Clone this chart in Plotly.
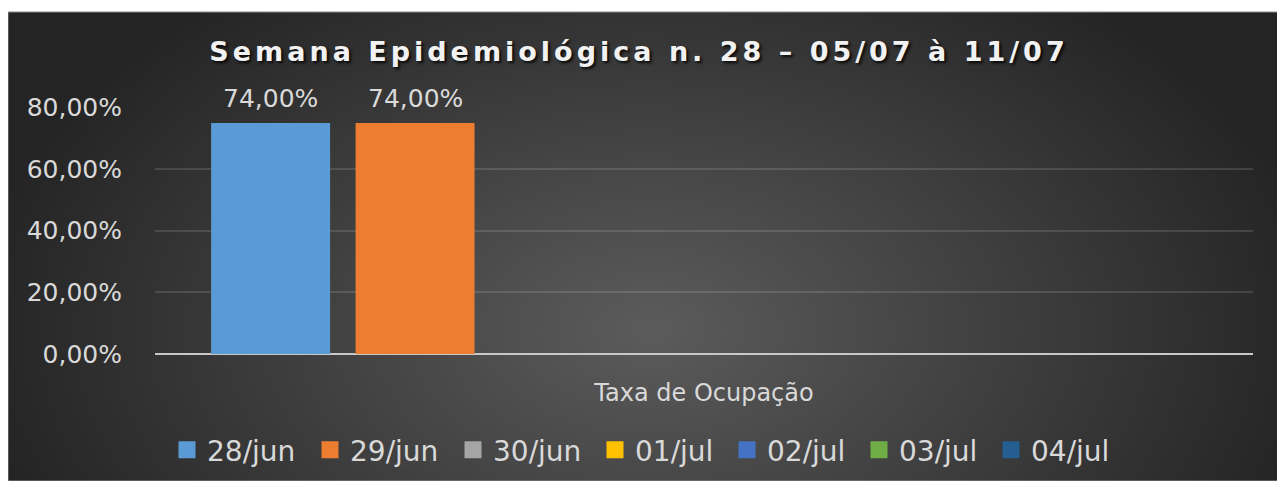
import base64
import struct
import zlib

import numpy as np
import plotly.graph_objects as go

# ---------------- data ----------------
categories = ["Taxa de Ocupação"]
series_names = ["28/jun", "29/jun", "30/jun", "01/jul", "02/jul", "03/jul", "04/jul"]
series_values = [0.74, 0.74, None, None, None, None, None]
y_ticks = [0, 0.2, 0.4, 0.6, 0.8]
title_text = "Semana Epidemiológica n. 28 – 05/07 à 11/07"

# ---------------- style ----------------
series_colors = ["#5b9bd5", "#ed7d31", "#a5a5a5", "#ffc000", "#4472c4", "#70ad47", "#255e91"]
legend_entry_widths = [98, 98, 97, 87, 87, 87, 87]

# geometry (page pixels; the page body has an 8px margin)
OFF = 8
W, H = 1285 - OFF, 481 - OFF
PX0, PX1, PY0, PY1 = max(7 - OFF, 0), 1283 - OFF, 12 - OFF, 481 - OFF
L, R, T, B = 155 - OFF, 1253 - OFF, 107 - OFF, 354 - OFF
pw, ph = R - L, B - T
BARGAP, BARGROUPGAP = 0.079, 0.211
BAR_LINE = 5  # outline in the bar colour (also enlarges the legend squares)


def make_png(arr):
    h, w = arr.shape
    raw = b"".join(b"\x00" + np.repeat(arr[i][:, None], 3, axis=1).astype(np.uint8).tobytes() for i in range(h))

    def chunk(tag, data):
        c = struct.pack(">I", len(data)) + tag + data
        return c + struct.pack(">I", zlib.crc32(tag + data) & 0xFFFFFFFF)

    png = b"\x89PNG\r\n\x1a\n"
    png += chunk(b"IHDR", struct.pack(">IIBBBBB", w, h, 8, 2, 0, 0, 0))
    png += chunk(b"IDAT", zlib.compress(raw, 9))
    png += chunk(b"IEND", b"")
    return "data:image/png;base64," + base64.b64encode(png).decode()


# radial (Excel-like) dark background
gw, gh = 320, 120
gx = np.linspace(PX0, PX1, gw)
gy = np.linspace(PY0, PY1, gh)
GX, GY = np.meshgrid(gx, gy)
rr = np.sqrt(((GX - (650 - OFF)) / 690) ** 2 + ((GY - (330 - OFF)) / 440) ** 2)
val = 92 - 56 * np.clip(rr, 0, 1)
bg_src = make_png(np.clip(val, 0, 255))

LABEL_FONT = dict(family="DejaVu Sans", size=25, color="#d9d9d9")
CAT_FONT = dict(family="DejaVu Sans", size=24, color="#d9d9d9")
LEGEND_FONT = dict(family="DejaVu Sans", size=28, color="#d9d9d9")

fig = go.Figure()
for name, v, c, lw in zip(series_names, series_values, series_colors, legend_entry_widths):
    fig.add_trace(go.Bar(
        x=categories,
        y=[v],
        name=name,
        legendwidth=lw,
        marker=dict(color=c, line=dict(width=BAR_LINE, color=c)),
    ))

# data labels above bars, positioned on the category axis from the bar group geometry
n = len(series_names)
slot = (1 - BARGAP) / n
annotations = []
for i, v in enumerate(series_values):
    if v is None:
        continue
    annotations.append(dict(
        x=-(1 - BARGAP) / 2 + slot * (i + 0.5),
        y=v,
        xref="x",
        yref="y",
        text=f"{v * 100:.2f}".replace(".", ",") + "%",
        showarrow=False,
        yanchor="bottom",
        yshift=11,
        font=LABEL_FONT,
    ))

fig.update_layout(
    width=W,
    height=H,
    margin=dict(l=L, r=W - R, t=T, b=H - B),
    paper_bgcolor="white",
    plot_bgcolor="rgba(0,0,0,0)",
    separators=",.",
    barmode="group",
    bargap=BARGAP,
    bargroupgap=BARGROUPGAP,
    title=dict(
        text="<b>" + title_text + "</b>",
        x=(639 - OFF) / W,
        xanchor="center",
        y=1 - (52 - OFF) / H,
        yanchor="middle",
        font=dict(family="DejaVu Sans", size=27, color="#f2f2f2",
                  shadow="2px 2px 3px rgba(0,0,0,0.85)"),
    ),
    xaxis=dict(
        showgrid=False,
        showline=False,
        zeroline=False,
        ticks="",
        tickfont=CAT_FONT,
        ticklabelstandoff=22,
    ),
    yaxis=dict(
        range=[0, 0.8],
        tickvals=y_ticks,
        tickformat=".2%",
        showgrid=True,
        gridcolor="rgba(255,255,255,0.13)",
        gridwidth=2,
        zeroline=True,
        zerolinecolor="#c8c8c8",
        zerolinewidth=2,
        showline=False,
        ticks="",
        tickfont=LABEL_FONT,
        ticklabelstandoff=32,
    ),
    legend=dict(
        orientation="h",
        xref="container",
        yref="container",
        x=(167 - OFF) / W,
        xanchor="left",
        y=1 - (450 - OFF) / H,
        yanchor="middle",
        font=LEGEND_FONT,
        bgcolor="rgba(0,0,0,0)",
        itemwidth=30,
        traceorder="normal",
    ),
    annotations=annotations,
    images=[dict(
        source=bg_src,
        xref="paper",
        yref="paper",
        x=(PX0 - L) / pw,
        y=(B - PY0) / ph,
        sizex=(PX1 - PX0) / pw,
        sizey=(PY1 - PY0) / ph,
        xanchor="left",
        yanchor="top",
        sizing="stretch",
        layer="below",
    )],
    shapes=[dict(
        type="rect",
        xref="paper",
        yref="paper",
        x0=(PX0 - L) / pw,
        x1=(PX1 - L) / pw,
        y0=(B - PY1) / ph,
        y1=(B - PY0) / ph,
        line=dict(color="#8c8c8c", width=1),
        fillcolor="rgba(0,0,0,0)",
        layer="below",
    )],
)

# the reference title is letter-spaced; plotly fonts have no letter-spacing option
post = """
(function(){
  function sp(){document.querySelectorAll('.gtitle').forEach(function(e){e.style.letterSpacing='4px';});}
  sp(); setTimeout(sp, 50); setTimeout(sp, 300);
})();
"""

fig.write_html("out.html", post_script=post)
